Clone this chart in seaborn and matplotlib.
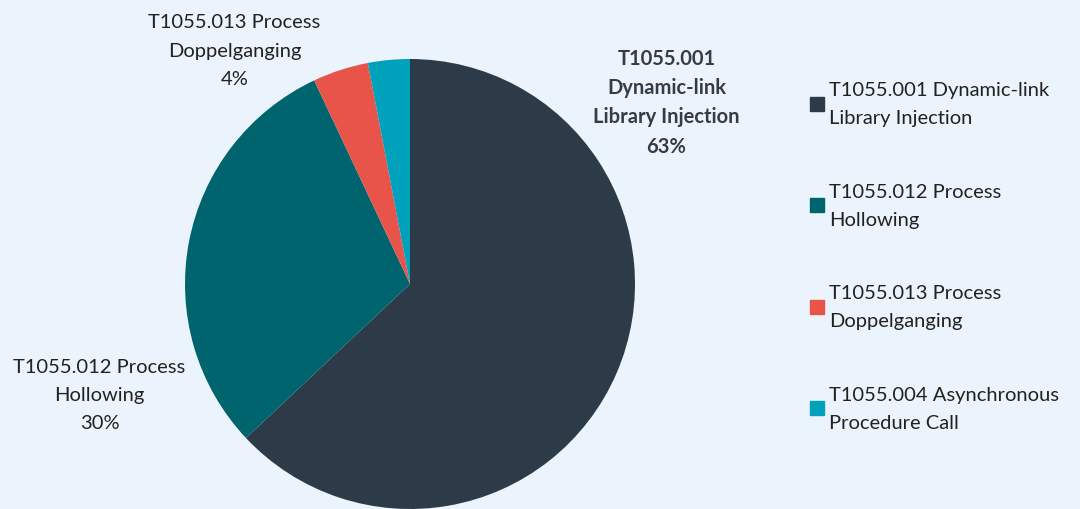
import matplotlib
matplotlib.use("Agg")
import matplotlib.pyplot as plt
from matplotlib.lines import Line2D
import seaborn as sns

# ------------------------------------------
# data
# ------------------------------------------
techniques = [
    "T1055.001 Dynamic-link\nLibrary Injection",
    "T1055.012 Process\nHollowing",
    "T1055.013 Process\nDoppelganging",
    "T1055.004 Asynchronous\nProcedure Call",
]
pie_labels = [
    "T1055.001\nDynamic-link\nLibrary Injection\n63%",
    "T1055.012 Process\nHollowing\n30%",
    "T1055.013 Process\nDoppelganging\n4%",
    None,
]
shares = [63, 30, 4, 3]
colors = ["#2d3a48", "#00646e", "#e8534a", "#00a2bb"]

# ------------------------------------------
# style
# ------------------------------------------
bg = "#ebf4fc"
sns.set_theme(style="white", rc={"figure.facecolor": bg, "axes.facecolor": bg})
plt.rcParams["font.family"] = ["Lato", "DejaVu Sans"]
palette = sns.color_palette(colors)
txt_color = "#222222"
fs = 14.5

fig = plt.figure(figsize=(10.8, 5.1), dpi=100)
# pie centre at (410, 285) px, radius 225 px
ax = fig.add_axes([185 / 1080, 0 / 510, 450 / 1080, 450 / 510])
wedges, _ = ax.pie(shares, colors=palette, startangle=90, counterclock=False,
                   radius=1.0, wedgeprops=dict(linewidth=0))
ax.set_xlim(-1, 1)
ax.set_ylim(-1, 1)
ax.set_aspect("equal")
ax.axis("off")

# outside labels (positions in pie-radius units)
label_pos = [(1.14, 0.81), (-1.38, -0.49), (-0.78, 1.04), None]
for lab, pos, i in zip(pie_labels, label_pos, range(len(shares))):
    if lab is None:
        continue
    ax.text(pos[0], pos[1], lab, ha="center", va="center", fontsize=fs,
            color="#353c44" if i == 0 else txt_color,
            fontweight="bold" if i == 0 else "normal",
            linespacing=1.58 if i == 0 else 1.8, clip_on=False)

# legend
handles = [Line2D([0], [0], marker="s", linestyle="", markersize=10,
                  markerfacecolor=c, markeredgecolor=c) for c in palette]
leg = fig.legend(handles, techniques, loc="upper left",
                 bbox_to_anchor=(802 / 1080, 1 - 74 / 510),
                 frameon=False, fontsize=fs, labelspacing=2.8,
                 handlelength=0.7, handletextpad=0.25, borderaxespad=0)
for t in leg.get_texts():
    t.set_color(txt_color)
    t.set_linespacing(1.8)

fig.savefig("out.png", dpi=100, facecolor=bg)
